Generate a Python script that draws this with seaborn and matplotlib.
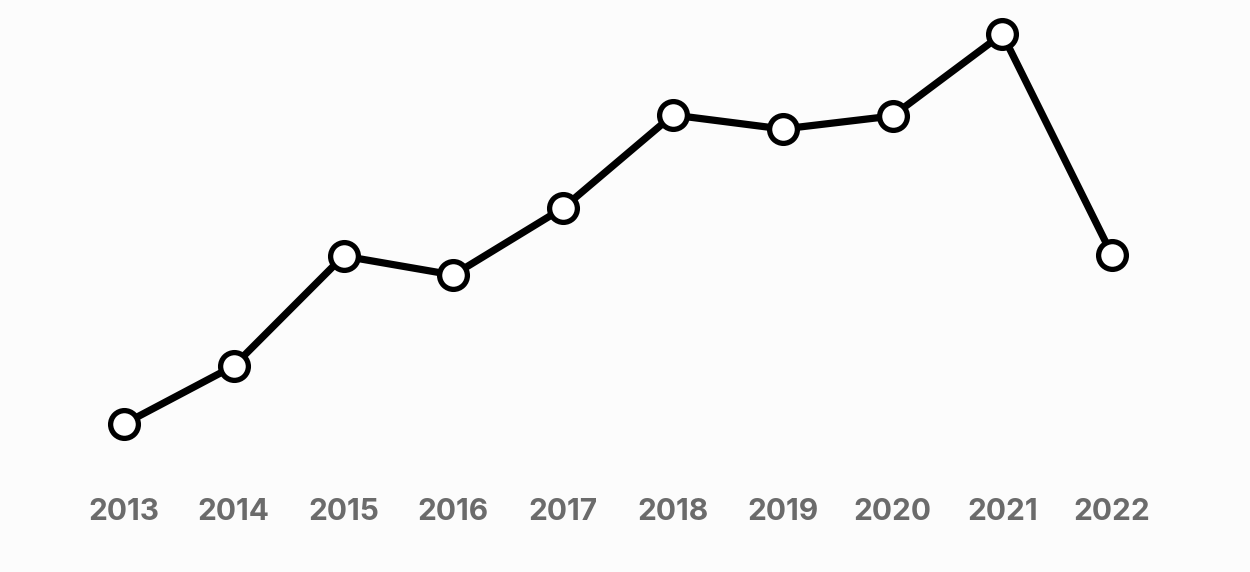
import matplotlib
matplotlib.use("Agg")
import matplotlib.pyplot as plt
import seaborn as sns
import pandas as pd

years = [2013, 2014, 2015, 2016, 2017, 2018, 2019, 2020, 2021, 2022]
values = [148, 206, 316, 297, 364, 457, 443, 456, 538, 317]

df = pd.DataFrame({"year": years, "value": values})

sns.set_style("white")
plt.rcParams["font.family"] = ["Inter", "DejaVu Sans"]

bg = "#fcfcfc"
fig = plt.figure(figsize=(12.5, 5.72), dpi=100, facecolor=bg)
ax = fig.add_axes([69 / 1250, 102 / 572, 1098 / 1250, 470 / 572], facecolor=bg)

sns.lineplot(data=df, x="year", y="value", ax=ax, color="black", linewidth=5.2,
             marker="o", markersize=20, markerfacecolor="white",
             markeredgecolor="black", markeredgewidth=3.8)

ax.set_xlim(2012.5, 2022.5)
ax.set_ylim(102, 572)
ax.set_xticks(years)
ax.set_xticklabels([str(y) for y in years], fontsize=21.5, fontweight="bold", color="#6b6b6b")
ax.tick_params(axis="x", length=0, pad=20)
ax.set_yticks([])
ax.set_xlabel("")
ax.set_ylabel("")
for s in ax.spines.values():
    s.set_visible(False)

fig.savefig("out.png", dpi=100, facecolor=bg)
